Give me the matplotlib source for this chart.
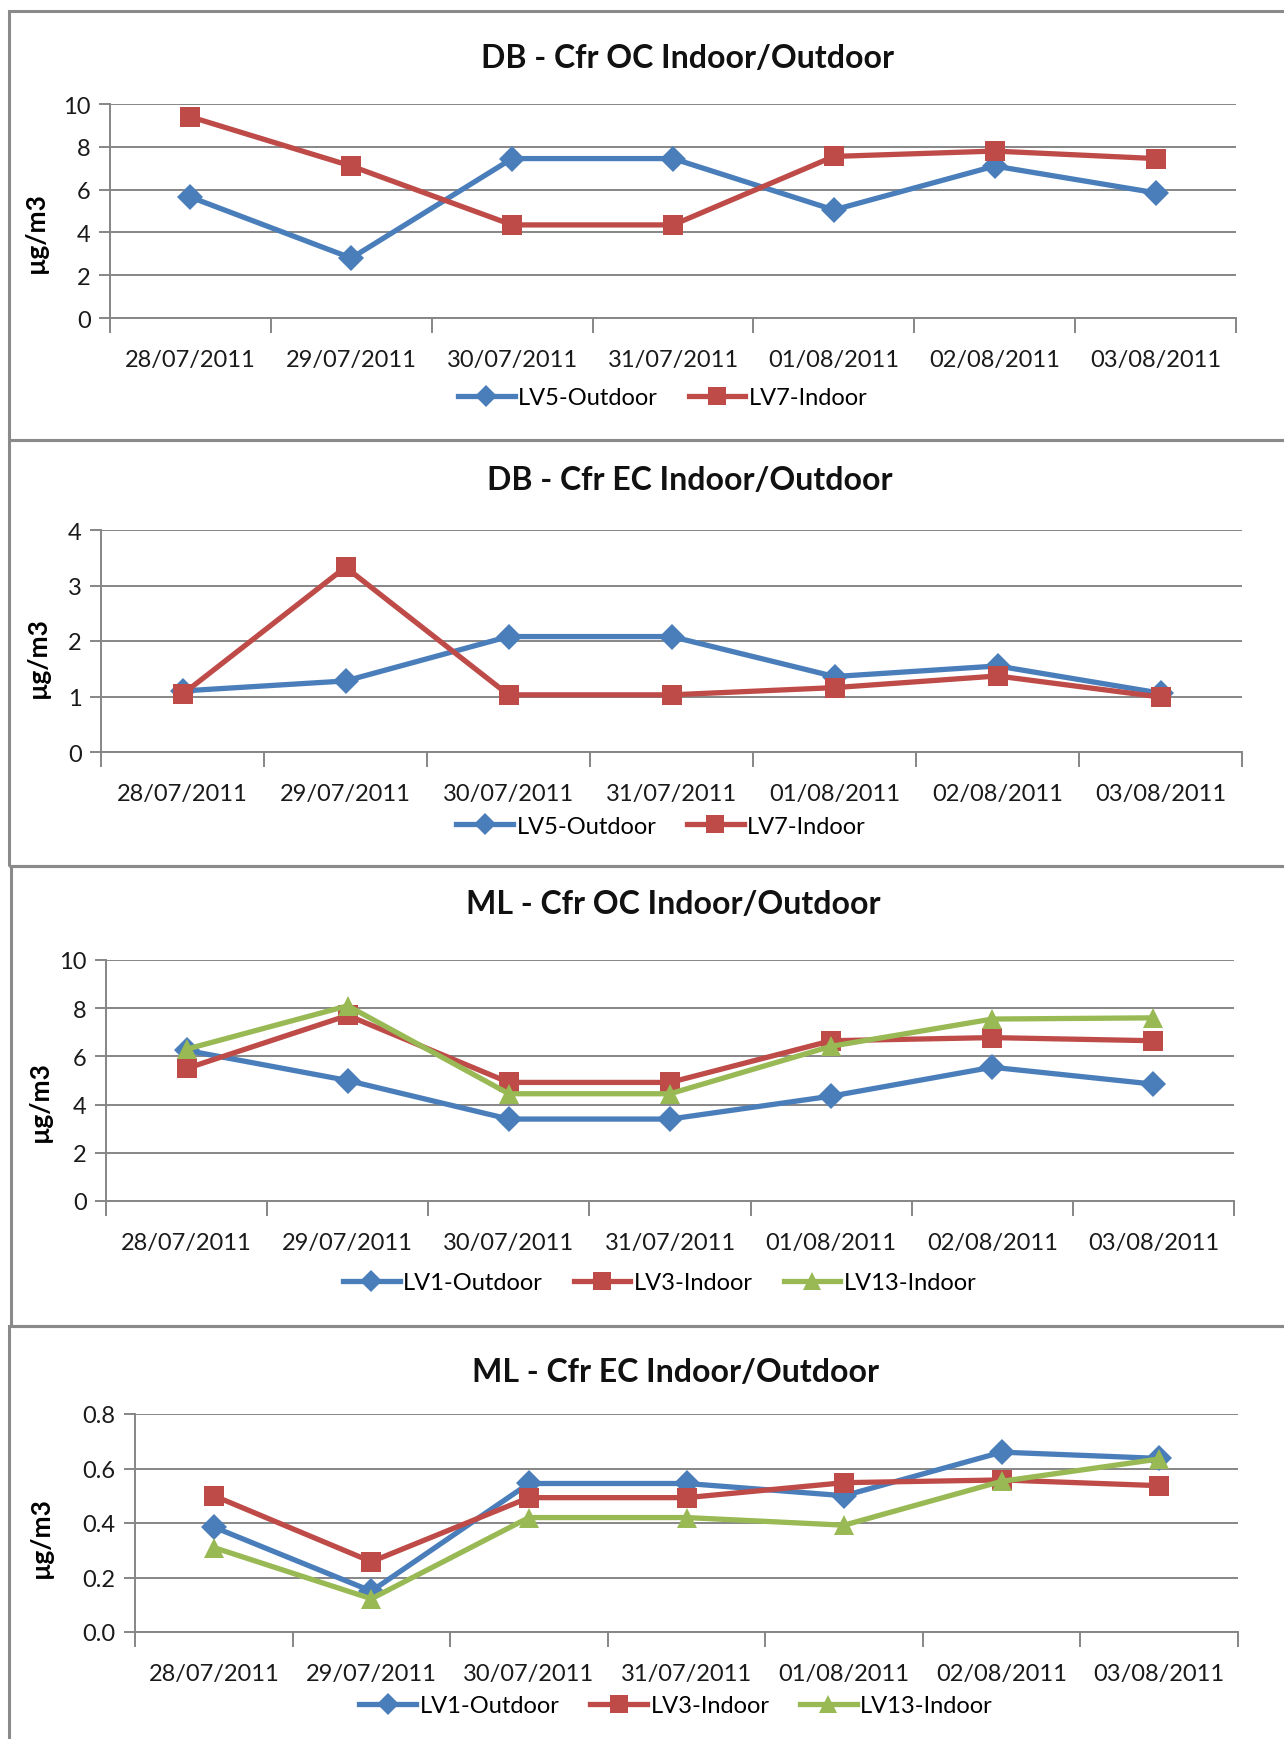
import matplotlib.pyplot as plt
from matplotlib.patches import Rectangle
import numpy as np

plt.rcParams['font.family'] = ['Lato', 'DejaVu Sans']

# dates on the category axis
dates = ['28/07/2011', '29/07/2011', '30/07/2011', '31/07/2011',
         '01/08/2011', '02/08/2011', '03/08/2011']

# DB site, organic carbon
db_oc_lv5 = [5.65, 2.8, 7.45, 7.45, 5.05, 7.1, 5.85]
db_oc_lv7 = [9.4, 7.1, 4.35, 4.35, 7.55, 7.8, 7.45]

# DB site, elemental carbon
db_ec_lv5 = [1.1, 1.28, 2.08, 2.08, 1.36, 1.55, 1.06]
db_ec_lv7 = [1.04, 3.33, 1.03, 1.03, 1.16, 1.37, 0.99]

# ML site, organic carbon
ml_oc_lv1 = [6.25, 5.0, 3.4, 3.4, 4.35, 5.55, 4.85]
ml_oc_lv3 = [5.5, 7.7, 4.92, 4.92, 6.65, 6.78, 6.65]
ml_oc_lv13 = [6.3, 8.1, 4.45, 4.45, 6.42, 7.55, 7.6]

# ML site, elemental carbon
ml_ec_lv1 = [0.385, 0.15, 0.545, 0.545, 0.5, 0.66, 0.637]
ml_ec_lv3 = [0.5, 0.258, 0.493, 0.493, 0.548, 0.558, 0.537]
ml_ec_lv13 = [0.31, 0.122, 0.42, 0.42, 0.392, 0.553, 0.635]

BLUE = '#4a7ebb'
RED = '#be4b48'
GREEN = '#98b954'
GRID = '#868686'

W, H = 1284, 1740
fig = plt.figure(figsize=(W / 100, H / 100), dpi=100)

# gray frames around each chart (pixel coords: left, top, bottom)
frames = [(9, 12, 441), (9, 441, 867), (11, 867, 1327), (9, 1327, 1760)]
for x0, y0, y1 in frames:
    fig.patches.append(Rectangle((x0 / W, 1 - y1 / H), 1.2, (y1 - y0) / H,
                                 transform=fig.transFigure, fill=False,
                                 edgecolor='#8a8a8a', linewidth=2.2))


def px_axes(x0, x1, y0, y1):
    return fig.add_axes([x0 / W, 1 - y1 / H, (x1 - x0) / W, (y1 - y0) / H])


def draw_chart(box, title, tx, ty, ymax, ystep, fmt, series, leg_y, label_xy):
    ax = px_axes(*box)
    x = np.arange(len(dates)) + 0.5
    handles = []
    for vals, color, marker, ms, name in series:
        h, = ax.plot(x, vals, color=color, lw=3.8, marker=marker, ms=ms,
                     markeredgewidth=0, label=name, solid_joinstyle='miter',
                     clip_on=False, zorder=3)
        handles.append(h)
    ax.set_xlim(0, len(dates))
    ax.set_ylim(0, ymax)
    yt = np.arange(0, ymax + ystep / 2, ystep)
    ax.set_yticks(yt)
    ax.set_yticklabels([fmt.format(v) for v in yt], fontsize=17, color='#1a1a1a')
    ax.set_xticks(np.arange(len(dates) + 1))
    ax.set_xticklabels([])
    ax.set_xticks(x, minor=True)
    ax.set_xticklabels(dates, minor=True, fontsize=17, color='#1a1a1a')
    ax.tick_params(axis='x', which='major', length=11, width=1.4, color=GRID)
    ax.tick_params(axis='x', which='minor', length=0, pad=22)
    ax.tick_params(axis='y', length=8, width=1.4, color=GRID, pad=6)
    ax.yaxis.grid(True, color=GRID, lw=1.4)
    ax.set_axisbelow(True)
    for s in ('top', 'right'):
        ax.spines[s].set_visible(False)
    for s in ('left', 'bottom'):
        ax.spines[s].set_color(GRID)
        ax.spines[s].set_linewidth(1.4)
    fig.text(tx / W, 1 - ty / H, title, ha='center', va='center',
             fontsize=23, fontweight='bold', color='#111111')
    fig.text(label_xy[0] / W, 1 - label_xy[1] / H, 'µg/m3', rotation=90,
             ha='center', va='center', fontsize=19, fontweight='bold')
    fig.legend(handles=handles, loc='center',
               bbox_to_anchor=((box[0] + box[1]) / 2 / W - 0.008, 1 - leg_y / H),
               ncol=len(handles), frameon=False, fontsize=17,
               handlelength=2.4, handletextpad=0.15, columnspacing=1.3,
               markerscale=0.9)
    return ax


draw_chart((110, 1236, 105, 319), 'DB - Cfr OC Indoor/Outdoor', 688, 58,
           10, 2, '{:.0f}',
           [(db_oc_lv5, BLUE, 'D', 13, 'LV5-Outdoor'),
            (db_oc_lv7, RED, 's', 14, 'LV7-Indoor')],
           399, (36, 233))

draw_chart((101, 1242, 531, 753), 'DB - Cfr EC Indoor/Outdoor', 690, 481,
           4, 1, '{:.0f}',
           [(db_ec_lv5, BLUE, 'D', 13, 'LV5-Outdoor'),
            (db_ec_lv7, RED, 's', 14, 'LV7-Indoor')],
           827, (38, 658))

draw_chart((106, 1234, 961, 1202), 'ML - Cfr OC Indoor/Outdoor', 673, 905,
           10, 2, '{:.0f}',
           [(ml_oc_lv1, BLUE, 'D', 13, 'LV1-Outdoor'),
            (ml_oc_lv3, RED, 's', 14, 'LV3-Indoor'),
            (ml_oc_lv13, GREEN, '^', 15, 'LV13-Indoor')],
           1284, (40, 1102))

draw_chart((135, 1238, 1415, 1633), 'ML - Cfr EC Indoor/Outdoor', 675, 1373,
           0.8, 0.2, '{:.1f}',
           [(ml_ec_lv1, BLUE, 'D', 13, 'LV1-Outdoor'),
            (ml_ec_lv3, RED, 's', 14, 'LV3-Indoor'),
            (ml_ec_lv13, GREEN, '^', 15, 'LV13-Indoor')],
           1707, (41, 1538))

fig.savefig('out.png', dpi=100)
